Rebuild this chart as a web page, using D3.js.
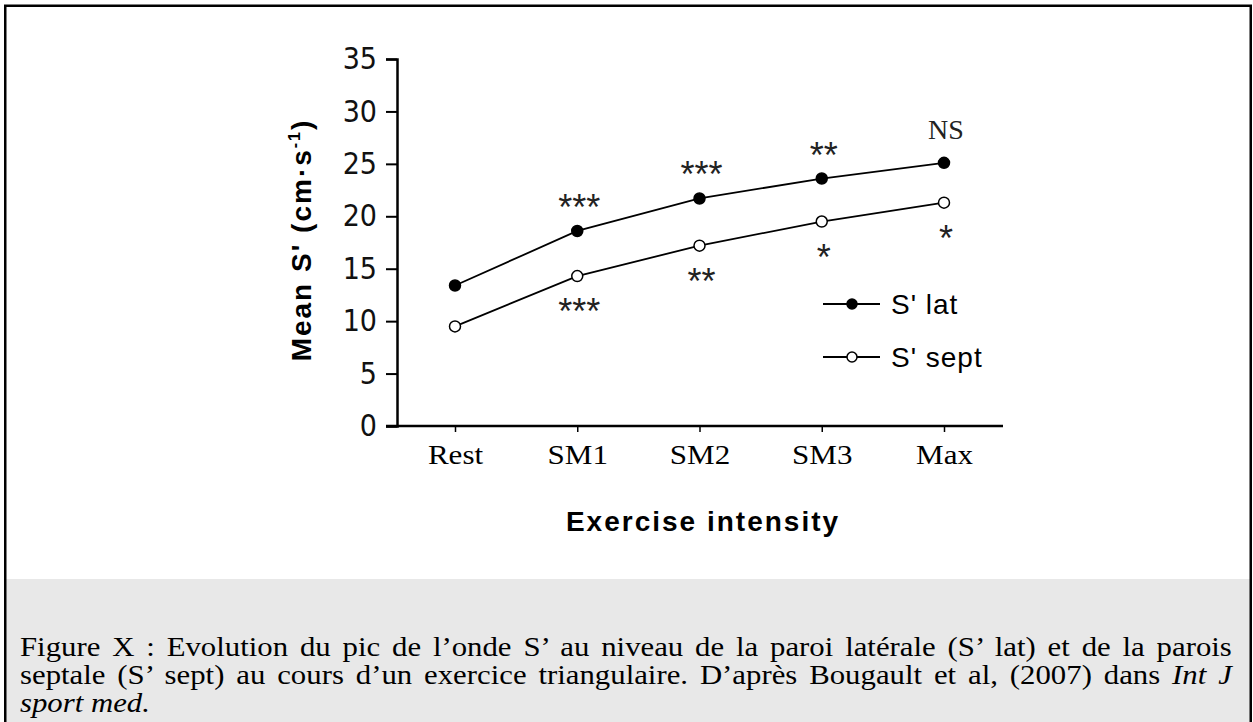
<!DOCTYPE html>
<html>
<head>
<meta charset="utf-8">
<script src="https://cdn.jsdelivr.net/npm/d3@7"></script>
<style>
  body { margin: 0; background: #fff; }
  #chart { position: relative; width: 1253px; height: 722px; overflow: hidden; }
  .caption { position: absolute; left: 20px; width: 1063px; transform: scaleX(1.14); transform-origin: 0 0;
             font-family: "Liberation Serif", "Times New Roman", serif; font-size: 27px; color: #000; }
  .caption .ln { text-align: justify; text-align-last: justify; line-height: 28px; white-space: nowrap; }
  .caption .ln.last { text-align-last: left; }
</style>
</head>
<body>
<div id="chart"></div>
<script>
let categories = ["Rest", "SM1", "SM2", "SM3", "Max"]
let sLat = [13.4, 18.6, 21.7, 23.6, 25.1]
let sSept = [9.5, 14.3, 17.2, 19.5, 21.3]
let latMarks = ["", "***", "***", "**", "NS"]
let septMarks = ["", "***", "**", "*", "*"]
let yTicks = [0, 5, 10, 15, 20, 25, 30, 35]
let seriesNames = ["S' lat", "S' sept"]

function renderChart(){
  let width = 1253, height = 722

  let chart = d3.select("#chart")

  let svg = chart.append("svg")
    .attr("width", width)
    .attr("height", height)
    .style("position", "absolute")
    .style("left", 0).style("top", 0)

  // caption background + frame
  svg.append("rect")
    .attr("x", 5).attr("y", 579)
    .attr("width", 1246).attr("height", 200)
    .attr("fill", "#e8e8e8")
  svg.append("rect")
    .attr("x", 5.25).attr("y", 5.75)
    .attr("width", 1245.5).attr("height", 760)
    .attr("fill", "none")
    .attr("stroke", "#000")
    .attr("stroke-width", 2.5)

  let x = d3.scalePoint()
    .domain(categories)
    .range([455, 944])

  let y = d3.scaleLinear()
    .domain([0, 35])
    .range([426, 59])

  let g = svg.append("g")

  // y axis
  let yAxis = g.append("g")
    .attr("transform", "translate(397,0)")
    .call(d3.axisLeft(y).tickValues(yTicks).tickSize(11).tickPadding(9))
  yAxis.select(".domain").attr("stroke-width", 2.5)
  yAxis.selectAll(".tick line").attr("stroke-width", 2)
  yAxis.selectAll(".tick text")
    .style("font-family", "'Liberation Sans Narrow', 'DejaVu Sans Condensed', sans-serif")
    .style("font-stretch", "condensed")
    .style("font-size", "30px")
    .attr("fill", "#111")

  // x axis
  g.append("line")
    .attr("x1", 386).attr("x2", 1003)
    .attr("y1", y(0)).attr("y2", y(0))
    .attr("stroke", "#000")
    .attr("stroke-width", 2.5)

  let xAxis = g.append("g")
    .attr("transform", `translate(0,${y(0) + 1})`)
    .call(d3.axisBottom(x).tickSize(5).tickPadding(13))
  xAxis.select(".domain").remove()
  xAxis.selectAll(".tick line").attr("stroke-width", 1.5)
  xAxis.selectAll(".tick text")
    .attr("transform", "scale(1.15,1)")
    .style("font-family", "'Liberation Serif', serif")
    .style("font-size", "27px")
    .attr("fill", "#000")

  // axis titles
  let yTitle = g.append("text")
    .attr("transform", `translate(311,${(115 + 365) / 2}) rotate(-90)`)
    .attr("text-anchor", "middle")
    .style("font-family", "'Liberation Sans', Arial, sans-serif")
    .style("font-weight", "bold")
    .style("font-size", "28px")
    .style("letter-spacing", "2px")
  yTitle.append("tspan").text("Mean S' (cm·s")
  yTitle.append("tspan")
    .attr("dy", -11)
    .style("font-size", "16px")
    .text("-1")
  yTitle.append("tspan")
    .attr("dy", 11)
    .text(")")

  g.append("text")
    .attr("x", 703)
    .attr("y", 531)
    .attr("text-anchor", "middle")
    .style("font-family", "'Liberation Sans', Arial, sans-serif")
    .style("font-weight", "bold")
    .style("font-size", "28px")
    .style("letter-spacing", "2px")
    .text("Exercise intensity")

  let line = d3.line()
    .x((d, i) => x(categories[i]))
    .y(d => y(d))

  let series = [
    {name: seriesNames[0], values: sLat, filled: true, marks: latMarks, dir: -1},
    {name: seriesNames[1], values: sSept, filled: false, marks: septMarks, dir: 1}
  ]

  series.forEach(function(s){
    g.append("path")
      .datum(s.values)
      .attr("d", line)
      .attr("fill", "none")
      .attr("stroke", "#000")
      .attr("stroke-width", 1.8)

    g.selectAll(null)
      .data(s.values)
      .enter()
      .append("circle")
        .attr("cx", (d, i) => x(categories[i]))
        .attr("cy", d => y(d))
        .attr("r", 5.5)
        .attr("fill", s.filled ? "#000" : "#fff")
        .attr("stroke", "#000")
        .attr("stroke-width", 1.5)

    // significance marks (asterisk glyph centre sits ~20px above baseline at 36px)
    g.selectAll(null)
      .data(s.values)
      .enter()
      .append("text")
        .attr("x", (d, i) => x(categories[i]) + 2)
        .attr("y", function(d, i){
          let m = s.marks[i]
          if (m === "NS") return y(d) - 24
          if (s.dir < 0) return y(d) - 31 + 20
          return y(d) + 28 + 20
        })
        .attr("text-anchor", "middle")
        .style("font-family", (d, i) => s.marks[i] === "NS" ? "'Liberation Serif', serif" : "'Liberation Sans', Arial, sans-serif")
        .style("font-size", (d, i) => s.marks[i] === "NS" ? "28px" : "36px")
        .attr("fill", "#222")
        .text((d, i) => s.marks[i])
  })

  // legend
  let legend = g.append("g")
  series.forEach(function(s, i){
    let ly = 304 + i * 53
    legend.append("line")
      .attr("x1", 823).attr("x2", 880)
      .attr("y1", ly).attr("y2", ly)
      .attr("stroke", "#000")
      .attr("stroke-width", 2)
    legend.append("circle")
      .attr("cx", 852).attr("cy", ly)
      .attr("r", 5)
      .attr("fill", s.filled ? "#000" : "#fff")
      .attr("stroke", "#000")
      .attr("stroke-width", 1.5)
    legend.append("text")
      .attr("x", 891)
      .attr("y", ly + 10)
      .style("font-family", "'Liberation Sans', Arial, sans-serif")
      .style("font-size", "28px")
      .style("letter-spacing", "1px")
      .text(s.name)
  })

  // caption
  let cap = chart.append("div")
    .attr("class", "caption")
    .style("top", "633px")
  cap.append("div").attr("class", "ln")
    .text("Figure X : Evolution du pic de l’onde S’ au niveau de la paroi latérale (S’ lat) et de la parois")
  let l2 = cap.append("div").attr("class", "ln")
  l2.append("span").text("septale (S’ sept) au cours d’un exercice triangulaire. D’après Bougault et al, (2007) dans ")
  l2.append("i").text("Int J")
  cap.append("div").attr("class", "ln last")
    .append("i").text("sport med.")
}

renderChart()
</script>
</body>
</html>
